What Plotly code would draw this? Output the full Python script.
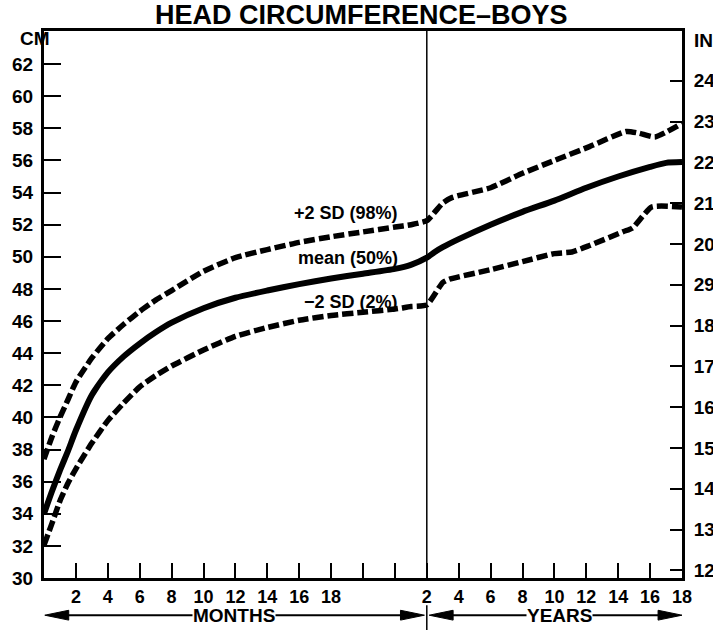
import plotly.graph_objects as go

# ---- data -------------------------------------------------------------
# Infancy: age in months (0-24)
months = [0, 0.5, 1, 1.5, 2, 3, 4, 5, 6, 7, 8, 10, 12, 14, 16, 18, 20, 22, 23, 24]
mean_m = [34.0, 35.4, 36.7, 37.9, 39.2, 41.4, 42.8, 43.8, 44.6, 45.3, 45.9, 46.8,
          47.45, 47.9, 48.3, 48.65, 48.95, 49.25, 49.5, 49.95]
plus2_m = [37.4, 38.8, 40.0, 41.1, 42.2, 43.7, 44.9, 45.8, 46.6, 47.3, 47.9, 49.1,
           49.95, 50.45, 50.9, 51.25, 51.55, 51.85, 52.0, 52.25]
minus2_m = [32.05, 33.4, 34.8, 35.9, 36.8, 38.4, 39.8, 40.9, 41.9, 42.6, 43.2, 44.2,
            45.05, 45.6, 46.05, 46.35, 46.55, 46.75, 46.9, 47.0]

# Childhood: age in years (2-18)
years_mean = [2, 2.5, 3, 4, 6, 8, 10, 12, 14, 16, 17, 18]
mean_y = [49.95, 50.3, 50.6, 51.1, 52.0, 52.8, 53.5, 54.3, 55.0, 55.6, 55.85, 55.9]

years_plus2 = [2, 3, 3.6, 6, 8, 10, 12.2, 14.5, 15.3, 16.3, 18]
plus2_y = [52.25, 53.35, 53.7, 54.3, 55.2, 56.0, 56.86, 57.8, 57.7, 57.46, 58.3]

years_minus2 = [2, 3, 3.4, 6, 8, 10, 11.1, 12.2, 14.3, 14.9, 16.1, 18]
minus2_y = [47.0, 48.4, 48.6, 49.2, 49.7, 50.2, 50.3, 50.7, 51.56, 51.8, 53.1, 53.1]

# Axis labels
cm_ticks = list(range(30, 63, 2))
in_ticks = list(range(12, 25))
in_labels = ["12", "13", "14", "15", "16", "17", "18", "29", "20", "21", "22", "23", "24"]
month_labels = ["2", "4", "6", "8", "10", "12", "14", "16", "18", "", ""]
year_labels = ["2", "4", "6", "8", "10", "12", "14", "16", "18"]

curve_labels = ["+2 SD (98%)", "mean (50%)", "\u22122 SD (2%)"]
title_text = "HEAD CIRCUMFERENCE\u2013BOYS"


# ---- shared horizontal scale: months 0-24, then one unit per year ------
def pos_months(m):
    return list(m)


def pos_years(y):
    return [24 + (v - 2) for v in y]


def join(mx, my, yx, yy):
    return pos_months(mx) + pos_years(yx)[1:], list(my) + list(yy)[1:]


FONT = "Liberation Sans"
CM_TOP = 64.06

x_mean, y_mean = join(months, mean_m, years_mean, mean_y)
x_p2, y_p2 = join(months, plus2_m, years_plus2, plus2_y)
x_m2, y_m2 = join(months, minus2_m, years_minus2, minus2_y)

fig = go.Figure()
dash = "11px,4px"
fig.add_trace(go.Scatter(x=x_p2, y=y_p2, mode="lines", hoverinfo="skip",
                         line=dict(color="black", width=5.5, dash=dash, shape="spline", smoothing=0.5)))
fig.add_trace(go.Scatter(x=x_mean, y=y_mean, mode="lines", hoverinfo="skip",
                         line=dict(color="black", width=6, shape="spline", smoothing=0.6)))
fig.add_trace(go.Scatter(x=x_m2, y=y_m2, mode="lines", hoverinfo="skip",
                         line=dict(color="black", width=5.5, dash=dash, shape="spline", smoothing=0.5)))
# same mean curve in inches, invisible, so the inch axis is bound to data
fig.add_trace(go.Scatter(x=x_mean, y=[v / 2.54 for v in y_mean], yaxis="y2", mode="lines",
                         hoverinfo="skip", line=dict(color="rgba(0,0,0,0)", width=0)))

tickfont = dict(family=FONT, size=19, color="black", weight="bold")
xtickfont = dict(family=FONT, size=18, color="black", weight="bold")

fig.update_layout(
    width=713, height=630,
    margin=dict(l=44, r=31, t=31, b=52),
    paper_bgcolor="white", plot_bgcolor="white",
    showlegend=False,
    xaxis=dict(range=[0, 40], showgrid=False, zeroline=False, automargin=False,
               tickvals=list(range(2, 23, 2)) + pos_years(range(2, 19, 2)),
               ticktext=month_labels + year_labels,
               ticks="inside", ticklen=15, tickwidth=2, tickcolor="black",
               showline=True, linewidth=3, linecolor="black", mirror=True,
               tickfont=xtickfont, ticklabelstandoff=0),
    yaxis=dict(range=[30, CM_TOP], showgrid=False, zeroline=False, automargin=False,
               tickvals=cm_ticks, ticks="inside", ticklen=17, tickwidth=2, tickcolor="black",
               showline=True, linewidth=3, linecolor="black",
               tickfont=tickfont, ticklabelstandoff=4),
    yaxis2=dict(range=[30 / 2.54, CM_TOP / 2.54], overlaying="y", side="right",
                showgrid=False, zeroline=False, automargin=False,
                tickvals=in_ticks, ticktext=in_labels,
                ticks="inside", ticklen=12, tickwidth=2, tickcolor="black",
                showline=True, linewidth=3, linecolor="black",
                tickfont=tickfont, ticklabelstandoff=5),
)

# divider between months and years
fig.add_shape(type="line", xref="x", yref="paper", x0=24, x1=24, y0=0, y1=1,
              line=dict(color="black", width=1.5))
fig.add_shape(type="line", xref="x", yref="paper", x0=24, x1=24, y0=-0.1, y1=-0.05,
              line=dict(color="black", width=1.5))

# double-headed arrows under the axis
ARROW_Y = -0.068
HEAD_LEN = 1.5
HEAD_H = 0.009


def double_arrow(x0, x1):
    fig.add_shape(type="line", xref="x", yref="paper", x0=x0 + 0.5, x1=x1 - 0.5,
                  y0=ARROW_Y, y1=ARROW_Y, line=dict(color="black", width=2))
    for tip, base in ((x0, x0 + HEAD_LEN), (x1, x1 - HEAD_LEN)):
        fig.add_shape(type="path", xref="x", yref="paper",
                      path=f"M {tip},{ARROW_Y} L {base},{ARROW_Y + HEAD_H} "
                           f"L {base},{ARROW_Y - HEAD_H} Z",
                      fillcolor="black", line=dict(color="black", width=1))


double_arrow(0.05, 23.85)
double_arrow(24.15, 40)

for txt, xc in (("MONTHS", 11.9), ("YEARS", 32.3)):
    fig.add_annotation(x=xc, y=ARROW_Y, xref="x", yref="paper", text=txt, showarrow=False,
                       xanchor="center", yanchor="middle", bgcolor="white", borderpad=0,
                       font=dict(family=FONT, size=19, color="black", weight="bold"))

# title and unit captions
fig.add_annotation(x=0.498, y=1.029, xref="paper", yref="paper", text=title_text,
                   showarrow=False, yanchor="middle",
                   font=dict(family=FONT, size=27, color="black", weight="bold"))
fig.add_annotation(x=-0.041, y=0.986, xref="paper", yref="paper", text="CM",
                   showarrow=False, yanchor="middle",
                   font=dict(family=FONT, size=19, color="black", weight="bold"))
fig.add_annotation(x=1.016, y=0.983, xref="paper", yref="paper", text="IN", xanchor="left",
                   showarrow=False, yanchor="middle",
                   font=dict(family=FONT, size=19, color="black", weight="bold"))

# curve captions
for txt, yv in zip(curve_labels, [52.73, 49.93, 47.19]):
    fig.add_annotation(x=22.3, y=yv, xref="x", yref="y", text=txt, xanchor="right",
                       yanchor="middle", showarrow=False,
                       font=dict(family=FONT, size=18, color="black", weight="bold"))

fig.write_html("out.html")
